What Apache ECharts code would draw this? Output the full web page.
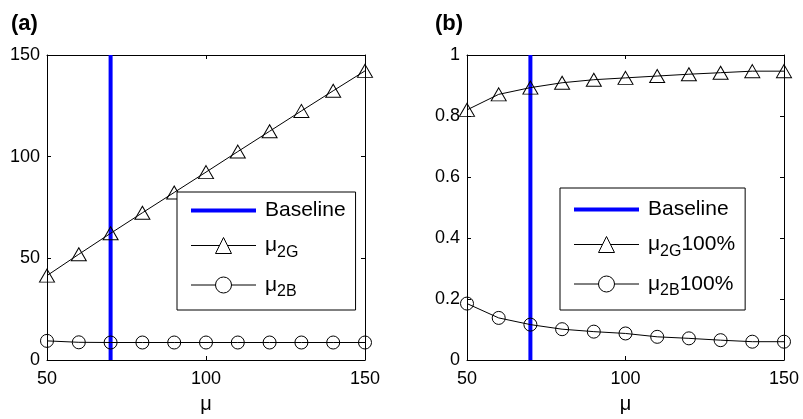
<!DOCTYPE html>
<html>
<head>
<meta charset="utf-8">
<script src="https://cdn.jsdelivr.net/npm/echarts@6/dist/echarts.min.js"></script>
<style>
  html, body { margin: 0; padding: 0; background: #fff; }
  #chart { width: 803px; height: 419px; }
</style>
</head>
<body>
<div id="chart"></div>
<script>
// μ values swept on the horizontal axis (shared by both panels)
const muValues = [50, 60, 70, 80, 90, 100, 110, 120, 130, 140, 150];

// Panel (a): absolute values
const mu2G = [41.5, 52, 62.3, 72.4, 82.4, 92.4, 102.5, 112.5, 122.5, 132.4, 142.2];
const mu2B = [9.4, 8.7, 8.6, 8.6, 8.6, 8.6, 8.6, 8.6, 8.6, 8.6, 8.6];

// Panel (b): fractions
const mu2G100 = [0.82, 0.871, 0.893, 0.909, 0.919, 0.925, 0.931, 0.937, 0.942, 0.947, 0.947];
const mu2B100 = [0.185, 0.138, 0.116, 0.101, 0.093, 0.087, 0.076, 0.071, 0.065, 0.06, 0.06];

// Baseline μ
const baselineMu = 70;

// Tick labels
const xTicks = [50, 100, 150];
const yTicksA = [0, 50, 100, 150];
const yTicksB = [0, 0.2, 0.4, 0.6, 0.8, 1];

const FONT = '"Liberation Sans", Arial, Helvetica, sans-serif';
const pairs = (xs, ys) => xs.map((x, i) => [x, ys[i]]);

function axisRange(ticks) {
  return { min: ticks[0], max: ticks[ticks.length - 1], interval: ticks[1] - ticks[0] };
}

const blackLine = { show: true, onZero: false, lineStyle: { color: '#000', width: 1 } };
const inTicks = { show: true, inside: true, length: 4, lineStyle: { color: '#000' } };

function mainX(gridIndex) {
  const r = axisRange(xTicks);
  return {
    type: 'value', gridIndex, position: 'bottom', min: r.min, max: r.max, interval: r.interval,
    name: 'μ', nameLocation: 'middle', nameGap: 34,
    nameTextStyle: { fontFamily: FONT, fontSize: 20, color: '#000' },
    axisLine: blackLine, axisTick: inTicks,
    axisLabel: { margin: 10, fontFamily: FONT, fontSize: 18, color: '#000' },
    splitLine: { show: false }
  };
}
function mirrorX(gridIndex) {
  const r = axisRange(xTicks);
  return {
    type: 'value', gridIndex, position: 'top', min: r.min, max: r.max, interval: r.interval,
    axisLine: blackLine, axisTick: inTicks,
    axisLabel: { show: false }, splitLine: { show: false }
  };
}
function mainY(gridIndex, ticks) {
  const r = axisRange(ticks);
  return {
    type: 'value', gridIndex, position: 'left', min: r.min, max: r.max, interval: r.interval,
    axisLine: blackLine, axisTick: inTicks,
    axisLabel: { margin: 7, fontFamily: FONT, fontSize: 18, color: '#000' },
    splitLine: { show: false }
  };
}
function mirrorY(gridIndex, ticks) {
  const r = axisRange(ticks);
  return {
    type: 'value', gridIndex, position: 'right', min: r.min, max: r.max, interval: r.interval,
    axisLine: blackLine, axisTick: inTicks,
    axisLabel: { show: false }, splitLine: { show: false }
  };
}

function baselineSeries(name, xAxisIndex, yAxisIndex, ticks) {
  return {
    name, type: 'line', xAxisIndex, yAxisIndex,
    data: [[baselineMu, ticks[0]], [baselineMu, ticks[ticks.length - 1]]],
    symbol: 'none', silent: true,
    lineStyle: { color: '#0000ff', width: 4 },
    itemStyle: { color: '#0000ff' },
    z: 2
  };
}
function markerSeries(name, xAxisIndex, yAxisIndex, ys, symbol, size) {
  return {
    name, type: 'line', xAxisIndex, yAxisIndex,
    data: pairs(muValues, ys),
    symbol, symbolSize: size, showAllSymbol: true,
    lineStyle: { color: '#000', width: 1 },
    itemStyle: { color: 'rgba(255,255,255,0)', borderColor: '#000', borderWidth: 1 },
    emphasis: { disabled: true },
    z: 3
  };
}

const legendRich = {
  f: { fontFamily: FONT, fontSize: 21, color: '#000', lineHeight: 30, padding: [0, 0, 0, 4] },
  m: { fontFamily: FONT, fontSize: 21, color: '#000', lineHeight: 30 },
  s: { fontFamily: FONT, fontSize: 16, color: '#000', lineHeight: 17, verticalAlign: 'bottom' }
};
const legendText = {
  'Baseline': '{f|Baseline}',
  'μ2G': '{f|μ}{s|2G}',
  'μ2B': '{f|μ}{s|2B}',
  'μ2G100%': '{f|μ}{s|2G}{m|100%}',
  'μ2B100%': '{f|μ}{s|2B}{m|100%}'
};

function legendItem(name) {
  if (name === 'Baseline') {
    // plain thick blue line, no marker
    return { name, lineStyle: { color: '#0000ff', width: 4 }, itemStyle: { opacity: 0, borderWidth: 0 } };
  }
  return {
    name,
    lineStyle: { color: '#000', width: 1 },
    itemStyle: { color: '#fff', borderColor: '#000', borderWidth: 1 }
  };
}

function legend(names, left, top, padding, gap) {
  return {
    orient: 'vertical', left, top, padding, itemGap: gap,
    itemWidth: 65, itemHeight: 20,
    backgroundColor: '#fff', borderColor: '#000', borderWidth: 1, borderRadius: 0,
    selectedMode: false,
    data: names.map(legendItem),
    formatter: n => legendText[n],
    textStyle: { rich: legendRich }
  };
}

const chart = echarts.init(document.getElementById('chart'), null, { renderer: 'canvas' });
chart.setOption({
  animation: false,
  backgroundColor: '#fff',
  title: [
    { text: '(a)', left: 6, top: 8, textStyle: { fontFamily: FONT, fontSize: 22, fontWeight: 'bold', color: '#000' } },
    { text: '(b)', left: 430, top: 8, textStyle: { fontFamily: FONT, fontSize: 22, fontWeight: 'bold', color: '#000' } }
  ],
  grid: [
    { left: 47, top: 55, width: 318, height: 306 },
    { left: 467, top: 55, width: 317, height: 307 }
  ],
  xAxis: [mainX(0), mirrorX(0), mainX(1), mirrorX(1)],
  yAxis: [mainY(0, yTicksA), mirrorY(0, yTicksA), mainY(1, yTicksB), mirrorY(1, yTicksB)],
  legend: [
    legend(['Baseline', 'μ2G', 'μ2B'], 177, 192, [8, 10, 10, 12], 14),
    legend(['Baseline', 'μ2G100%', 'μ2B100%'], 560, 188, [11, 10, 11, 12], 14)
  ],
  series: [
    baselineSeries('Baseline', 0, 0, yTicksA),
    markerSeries('μ2G', 0, 0, mu2G, 'triangle', [15, 13]),
    markerSeries('μ2B', 0, 0, mu2B, 'circle', 13),
    baselineSeries('Baseline', 2, 2, yTicksB),
    markerSeries('μ2G100%', 2, 2, mu2G100, 'triangle', [15, 13]),
    markerSeries('μ2B100%', 2, 2, mu2B100, 'circle', 13)
  ]
});
</script>
</body>
</html>
